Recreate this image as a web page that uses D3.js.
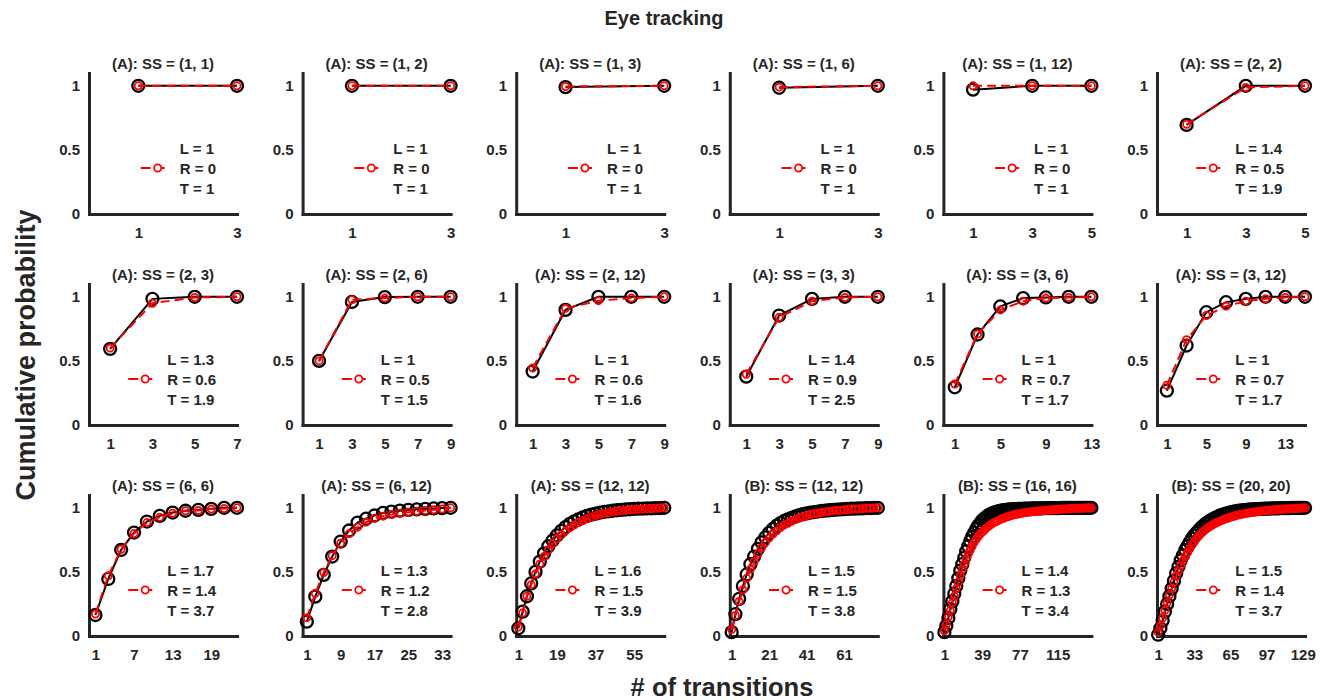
<!DOCTYPE html>
<html lang="en">
<head>
<meta charset="UTF-8">
<title>Eye tracking - cumulative probability</title>
<script src="https://d3js.org/d3.v7.min.js"></script>
<style>
    body { margin: 0; background: #fff; }
    svg text { font-family: "Liberation Sans", Arial, sans-serif; font-weight: bold; fill: #262626; }
</style>
</head>
<body>
<svg id="chart" width="1329" height="700"></svg>
<script>
// panel titles, fitted parameters and x ranges (# of transitions, odd steps 1, 3, 5 ...)
const titles = ['(A): SS = (1, 1)', '(A): SS = (1, 2)', '(A): SS = (1, 3)', '(A): SS = (1, 6)', '(A): SS = (1, 12)', '(A): SS = (2, 2)',
                '(A): SS = (2, 3)', '(A): SS = (2, 6)', '(A): SS = (2, 12)', '(A): SS = (3, 3)', '(A): SS = (3, 6)', '(A): SS = (3, 12)',
                '(A): SS = (6, 6)', '(A): SS = (6, 12)', '(A): SS = (12, 12)', '(B): SS = (12, 12)', '(B): SS = (16, 16)', '(B): SS = (20, 20)'];
const statL = ['1', '1', '1', '1', '1', '1.4', '1.3', '1', '1', '1.4', '1', '1', '1.7', '1.3', '1.6', '1.5', '1.4', '1.5'];
const statR = ['0', '0', '0', '0', '0', '0.5', '0.6', '0.5', '0.6', '0.9', '0.7', '0.7', '1.4', '1.2', '1.5', '1.5', '1.3', '1.4'];
const statT = ['1', '1', '1', '1', '1', '1.9', '1.9', '1.5', '1.6', '2.5', '1.7', '1.7', '3.7', '2.8', '3.9', '3.8', '3.4', '3.7'];
const xMax = [3, 3, 3, 3, 5, 5, 7, 9, 9, 9, 13, 15, 23, 35, 69, 79, 149, 131];
const xTicks = [[1, 3], [1, 3], [1, 3], [1, 3], [1, 3, 5], [1, 3, 5],
                [1, 3, 5, 7], [1, 3, 5, 7, 9], [1, 3, 5, 7, 9], [1, 3, 5, 7, 9], [1, 5, 9, 13], [1, 5, 9, 13],
                [1, 7, 13, 19], [1, 9, 17, 25, 33], [1, 19, 37, 55], [1, 21, 41, 61], [1, 39, 77, 115], [1, 33, 65, 97, 129]];

// observed (black) and model (red) cumulative probabilities
const obs01 = [1, 1];            const fit01 = [1, 1];
const obs02 = [1, 1];            const fit02 = [1, 1];
const obs03 = [0.99, 1];         const fit03 = [0.995, 1];
const obs04 = [0.985, 1];        const fit04 = [0.99, 1];
const obs05 = [0.97, 1, 1];      const fit05 = [1, 1, 1];
const obs06 = [0.695, 1, 1];     const fit06 = [0.7, 0.987, 1];
const obs07 = [0.594, 0.984, 1, 1];
const fit07 = [0.6, 0.95, 0.995, 1];
const obs08 = [0.5, 0.96, 0.998, 1, 1];
const fit08 = [0.5, 0.977, 0.99, 1, 1];
const obs09 = [0.417, 0.898, 1, 1, 1];
const fit09 = [0.445, 0.91, 0.97, 0.99, 1];
const obs10 = [0.377, 0.854, 0.984, 1, 1];
const fit10 = [0.396, 0.84, 0.966, 0.995, 1];
const obs11 = [0.294, 0.706, 0.925, 0.99, 0.995, 1, 1];
const fit11 = [0.32, 0.71, 0.898, 0.966, 0.99, 0.995, 1];
const obs12 = [0.268, 0.62, 0.88, 0.958, 0.984, 1, 1, 1];
const fit12 = [0.31, 0.666, 0.854, 0.927, 0.966, 0.985, 0.995, 1];
const obs13 = [0.164, 0.445, 0.672, 0.807, 0.893, 0.937, 0.963, 0.977, 0.984, 0.992, 1, 1];
const fit13 = [0.172, 0.47, 0.677, 0.8, 0.885, 0.927, 0.958, 0.977, 0.98, 0.99, 0.995, 1];
const obs14 = [0.112, 0.307, 0.477, 0.62, 0.737, 0.823, 0.885, 0.915, 0.94, 0.96, 0.97, 0.978, 0.984, 0.988, 0.992, 0.995, 0.998, 1];
const fit14 = [0.143, 0.333, 0.495, 0.627, 0.724, 0.797, 0.849, 0.888, 0.919, 0.935, 0.948, 0.958, 0.966, 0.973, 0.979, 0.985, 0.991, 1];
const obs15 = [0.06, 0.19, 0.31, 0.41, 0.5, 0.58, 0.645, 0.7, 0.745, 0.785, 0.82, 0.85, 0.875, 0.895, 0.91, 0.925, 0.937, 0.947,
               0.955, 0.962, 0.968, 0.973, 0.977, 0.981, 0.984, 0.987, 0.989, 0.991, 0.993, 0.994, 0.995, 0.996, 0.997, 0.998, 1];
const fit15 = [0.07, 0.18, 0.31, 0.4, 0.485, 0.56, 0.62, 0.67, 0.72, 0.76, 0.79, 0.82, 0.845, 0.865, 0.885, 0.9, 0.915, 0.928,
               0.938, 0.947, 0.955, 0.962, 0.968, 0.973, 0.977, 0.981, 0.984, 0.987, 0.989, 0.991, 0.993, 0.995, 0.997, 0.998, 1];
const obs16 = [0.03, 0.17, 0.29, 0.39, 0.48, 0.56, 0.62, 0.68, 0.73, 0.77,
               0.805, 0.835, 0.86, 0.88, 0.897, 0.91, 0.922, 0.933, 0.942, 0.95,
               0.956, 0.962, 0.967, 0.971, 0.975, 0.978, 0.981, 0.984, 0.986, 0.988,
               0.99, 0.991, 0.993, 0.994, 0.995, 0.996, 0.997, 0.998, 0.999, 1];
const fit16 = [0.05, 0.16, 0.27, 0.36, 0.45, 0.52, 0.58, 0.64, 0.69, 0.73,
               0.765, 0.795, 0.82, 0.845, 0.865, 0.88, 0.895, 0.908, 0.92, 0.93,
               0.938, 0.946, 0.953, 0.958, 0.963, 0.968, 0.972, 0.976, 0.979, 0.982,
               0.985, 0.987, 0.989, 0.991, 0.993, 0.995, 0.996, 0.997, 0.998, 1];
const obs17 = [0.03, 0.08, 0.14, 0.21, 0.27, 0.33, 0.39, 0.45, 0.51, 0.56,
               0.61, 0.66, 0.7, 0.74, 0.775, 0.805, 0.835, 0.86, 0.88, 0.9,
               0.915, 0.928, 0.94, 0.949, 0.957, 0.963, 0.968, 0.972, 0.976, 0.979,
               0.981, 0.983, 0.985, 0.987, 0.988, 0.989, 0.99, 0.991, 0.992, 0.992,
               0.993, 0.993, 0.994, 0.994, 0.995, 0.995, 0.995, 0.996, 0.996, 0.996,
               0.997, 0.997, 0.997, 0.997, 0.998, 0.998, 0.998, 0.998, 0.998, 0.999,
               0.999, 0.999, 0.999, 0.999, 0.999, 0.999, 1, 1, 1, 1,
               1, 1, 1, 1, 1];
const fit17 = [0.04, 0.09, 0.15, 0.2, 0.26, 0.31, 0.37, 0.42, 0.47, 0.52,
               0.56, 0.6, 0.64, 0.67, 0.7, 0.73, 0.755, 0.775, 0.795, 0.81,
               0.825, 0.84, 0.853, 0.865, 0.875, 0.885, 0.893, 0.9, 0.908, 0.915,
               0.921, 0.927, 0.932, 0.937, 0.941, 0.945, 0.949, 0.952, 0.955, 0.958,
               0.961, 0.963, 0.965, 0.967, 0.969, 0.971, 0.973, 0.975, 0.976, 0.978,
               0.979, 0.98, 0.982, 0.983, 0.984, 0.985, 0.986, 0.987, 0.988, 0.989,
               0.99, 0.991, 0.992, 0.993, 0.994, 0.994, 0.995, 0.996, 0.996, 0.997,
               0.998, 0.998, 0.999, 0.999, 1];
const obs18 = [0.01, 0.06, 0.12, 0.19, 0.25, 0.31, 0.37, 0.43, 0.49, 0.54,
               0.59, 0.63, 0.67, 0.7, 0.73, 0.76, 0.785, 0.805, 0.825, 0.845,
               0.86, 0.875, 0.888, 0.9, 0.91, 0.92, 0.928, 0.936, 0.943, 0.949,
               0.955, 0.96, 0.964, 0.968, 0.972, 0.975, 0.978, 0.98, 0.982, 0.984,
               0.986, 0.987, 0.988, 0.989, 0.99, 0.991, 0.992, 0.993, 0.994, 0.994,
               0.995, 0.995, 0.996, 0.996, 0.997, 0.997, 0.998, 0.998, 0.998, 0.999,
               0.999, 0.999, 0.999, 1, 1, 1];
const fit18 = [0.03, 0.08, 0.14, 0.2, 0.26, 0.32, 0.37, 0.42, 0.47, 0.51,
               0.55, 0.59, 0.62, 0.65, 0.68, 0.71, 0.735, 0.76, 0.78, 0.8,
               0.815, 0.83, 0.843, 0.855, 0.866, 0.876, 0.885, 0.893, 0.901, 0.908,
               0.915, 0.921, 0.927, 0.932, 0.937, 0.942, 0.946, 0.95, 0.954, 0.957,
               0.96, 0.963, 0.966, 0.969, 0.971, 0.973, 0.975, 0.977, 0.979, 0.981,
               0.982, 0.984, 0.985, 0.986, 0.988, 0.989, 0.99, 0.991, 0.992, 0.993,
               0.994, 0.995, 0.996, 0.997, 0.998, 1];

const observed = [obs01, obs02, obs03, obs04, obs05, obs06, obs07, obs08, obs09, obs10, obs11, obs12, obs13, obs14, obs15, obs16, obs17, obs18];
const fitted = [fit01, fit02, fit03, fit04, fit05, fit06, fit07, fit08, fit09, fit10, fit11, fit12, fit13, fit14, fit15, fit16, fit17, fit18];

const svg = d3.select('#chart');
const axisColor = '#262626';

// layout of the 3 x 6 grid
const left0 = 89, colStep = 213.6, panelW = 148;
const zero0 = 214, rowStep = 211, panelH = 141;

function drawPanel(i) {
    const col = i % 6, row = Math.floor(i / 6);
    const left = left0 + col * colStep;
    const zero = zero0 + row * rowStep;

    const x = d3.scaleLinear().domain([0, xMax[i]]).range([left, left + panelW]);
    const y = d3.scaleLinear().domain([0, 1.1]).range([zero, zero - panelH]);

    const g = svg.append('g');

    // axes
    const yAxis = g.append('g')
        .attr('transform', `translate(${left},0)`)
        .call(d3.axisLeft(y).tickValues([0, 0.5, 1]).tickSize(0).tickPadding(9).tickFormat(d3.format('~g')));
    const xAxis = g.append('g')
        .attr('transform', `translate(0,${zero})`)
        .call(d3.axisBottom(x).tickValues(xTicks[i]).tickSize(0).tickPadding(13).tickFormat(d3.format('d')));
    [yAxis, xAxis].forEach(a => {
        a.select('.domain').attr('stroke', axisColor).attr('stroke-width', 3).attr('stroke-linecap', 'square');
        a.selectAll('text').attr('font-size', 15).attr('font-family', null).attr('fill', axisColor);
        a.attr('font-family', null);
    });

    // panel title
    g.append('text')
        .attr('x', left + panelW / 2)
        .attr('y', zero - 151)
        .attr('text-anchor', 'middle')
        .attr('dominant-baseline', 'central')
        .attr('font-size', 15)
        .text(titles[i]);

    const obsPts = observed[i].map((v, k) => ({ t: 1 + 2 * k, p: v }));
    const fitPts = fitted[i].map((v, k) => ({ t: 1 + 2 * k, p: v }));
    const line = d3.line().x(d => x(d.t)).y(d => y(d.p));

    // observed: black solid line with large open circles
    g.append('path').datum(obsPts)
        .attr('d', line).attr('fill', 'none').attr('stroke', '#000').attr('stroke-width', 2);
    g.append('g').selectAll('circle').data(obsPts).join('circle')
        .attr('cx', d => x(d.t)).attr('cy', d => y(d.p)).attr('r', 6)
        .attr('fill', 'none').attr('stroke', '#000').attr('stroke-width', 2.3);

    // model: red dashed line with small open circles
    g.append('path').datum(fitPts)
        .attr('d', line).attr('fill', 'none').attr('stroke', '#ff0000').attr('stroke-width', 2)
        .attr('stroke-dasharray', '9,5');
    g.append('g').selectAll('circle').data(fitPts).join('circle')
        .attr('cx', d => x(d.t)).attr('cy', d => y(d.p)).attr('r', 3.6)
        .attr('fill', 'none').attr('stroke', '#ff0000').attr('stroke-width', 1.8);

    // legend: red sample + L / R / T lines, right aligned
    const lg = g.append('g');
    const lines = ['L = ' + statL[i], 'R = ' + statR[i], 'T = ' + statT[i]];
    const texts = lines.map((s, k) => lg.append('text')
        .attr('y', zero - 66 + k * 20)
        .attr('dominant-baseline', 'central')
        .attr('font-size', 15)
        .text(s));
    const maxW = d3.max(texts, t => t.node().getComputedTextLength());
    const textLeft = left + 127 - maxW;
    texts.forEach(t => t.attr('x', textLeft));
    const ly = zero - 46;
    lg.append('line')
        .attr('x1', textLeft - 39).attr('x2', textLeft - 11)
        .attr('y1', ly).attr('y2', ly)
        .attr('stroke', '#ff0000').attr('stroke-width', 2).attr('stroke-dasharray', '10,4');
    lg.append('circle')
        .attr('cx', textLeft - 22).attr('cy', ly).attr('r', 3.6)
        .attr('fill', '#fff').attr('stroke', '#ff0000').attr('stroke-width', 1.8);
}

titles.forEach((_, i) => drawPanel(i));

// figure labels
svg.append('text')
    .attr('x', 664).attr('y', 18)
    .attr('text-anchor', 'middle').attr('dominant-baseline', 'central')
    .attr('font-size', 20)
    .text('Eye tracking');

svg.append('text')
    .attr('x', 722).attr('y', 687)
    .attr('text-anchor', 'middle').attr('dominant-baseline', 'central')
    .attr('font-size', 25.5)
    .text('# of transitions');

svg.append('text')
    .attr('transform', 'translate(26,355) rotate(-90)')
    .attr('text-anchor', 'middle').attr('dominant-baseline', 'central')
    .attr('font-size', 27)
    .text('Cumulative probability');
</script>
</body>
</html>
